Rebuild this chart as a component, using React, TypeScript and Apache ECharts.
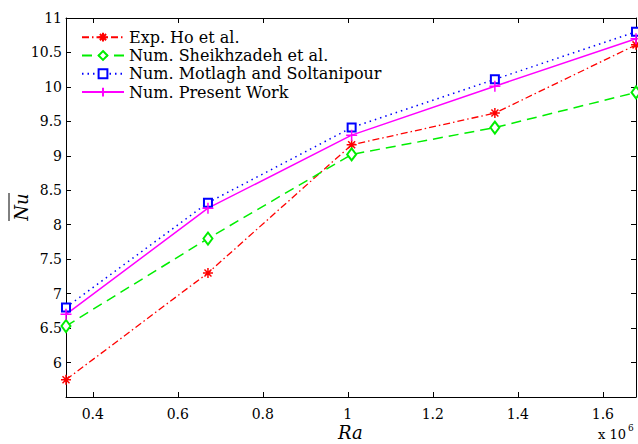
import React, { useEffect, useRef } from "react";
import * as echarts from "echarts";

const raValues = [0.337, 0.671, 1.009, 1.346, 1.678];
const hoExp = [5.75, 7.3, 9.16, 9.62, 10.61];
const sheikhzadeh = [6.53, 7.8, 9.02, 9.41, 9.92];
const motlagh = [6.8, 8.32, 9.41, 10.11, 10.8];
const present = [6.7, 8.24, 9.3, 10.01, 10.7];
const seriesNames = [
  "Exp. Ho et al.",
  "Num. Sheikhzadeh et al.",
  "Num. Motlagh and Soltanipour",
  "Num. Present Work",
];
const xTicks = [0.4, 0.6, 0.8, 1.0, 1.2, 1.4, 1.6];
const yTicks = [6, 6.5, 7, 7.5, 8, 8.5, 9, 9.5, 10, 10.5, 11];

const FONT = "DejaVu Serif";
const STAR = "path://M5,0L5,10M0,5L10,5M1.5,1.5L8.5,8.5M8.5,1.5L1.5,8.5";
const PLUS = "path://M5,0L5,10M0,5L10,5";

export default function App() {
  const ref = useRef<HTMLDivElement>(null);
  useEffect(() => {
    if (!ref.current) return;
    const chart = echarts.init(ref.current, null, { renderer: "svg" });
    const pairs = (ys: number[]) => raValues.map((x, i) => [x, ys[i]]);
    const axisLine = { show: true, lineStyle: { color: "#000", width: 1 } };
    const tick = (vals: number[]) => ({
      show: true,
      inside: true,
      length: 5,
      customValues: vals,
      lineStyle: { color: "#000", width: 1 },
    });
    chart.setOption({
      animation: false,
      backgroundColor: "#fff",
      grid: { left: 66, right: 2, top: 18, bottom: 47 },
      legend: {
        orient: "vertical",
        left: 76,
        top: 23,
        itemWidth: 42,
        itemHeight: 11,
        itemGap: 0,
        textStyle: { fontFamily: FONT, fontSize: 16, color: "#000", lineHeight: 18.3 },
        data: seriesNames,
      },
      xAxis: [
        {
          type: "value",
          min: 0.337,
          max: 1.678,
          axisLine,
          axisTick: tick(xTicks),
          splitLine: { show: false },
          axisLabel: {
            customValues: xTicks,
            margin: 10,
            fontFamily: FONT,
            fontSize: 14,
            color: "#000",
            formatter: (v: number) => String(Math.round(v * 10) / 10),
          },
        },
        {
          type: "value",
          position: "top",
          min: 0.337,
          max: 1.678,
          axisLine,
          axisTick: tick(xTicks),
          splitLine: { show: false },
          axisLabel: { show: false },
        },
      ],
      yAxis: [
        {
          type: "value",
          min: 5.5,
          max: 11,
          axisLine,
          axisTick: tick(yTicks),
          splitLine: { show: false },
          axisLabel: {
            customValues: yTicks,
            margin: 4,
            fontFamily: FONT,
            fontSize: 14,
            color: "#000",
            formatter: (v: number) => String(v),
          },
        },
        {
          type: "value",
          position: "right",
          min: 5.5,
          max: 11,
          axisLine,
          axisTick: tick(yTicks),
          splitLine: { show: false },
          axisLabel: { show: false },
        },
      ],
      series: [
        {
          name: seriesNames[0],
          type: "line",
          data: pairs(hoExp),
          symbol: STAR,
          symbolSize: 10,
          lineStyle: { color: "#ff0000", width: 1.3, type: [7, 3, 1.5, 3] },
          itemStyle: { color: "#ff0000", borderColor: "#ff0000", borderWidth: 1.5 },
        },
        {
          name: seriesNames[1],
          type: "line",
          data: pairs(sheikhzadeh),
          symbol: "emptyDiamond",
          symbolSize: [9, 12],
          lineStyle: { color: "#00ee00", width: 1.5, type: [10, 6] },
          itemStyle: { color: "#00ee00", borderColor: "#00ee00", borderWidth: 1.5 },
        },
        {
          name: seriesNames[2],
          type: "line",
          data: pairs(motlagh),
          symbol: "emptyRect",
          symbolSize: 8,
          lineStyle: { color: "#0000ff", width: 1.5, type: [1.5, 4] },
          itemStyle: { color: "#0000ff", borderColor: "#0000ff", borderWidth: 1.5 },
        },
        {
          name: seriesNames[3],
          type: "line",
          data: pairs(present),
          symbol: PLUS,
          symbolSize: 11,
          lineStyle: { color: "#ff00ff", width: 1.5, type: "solid" },
          itemStyle: { color: "#ff00ff", borderColor: "#ff00ff", borderWidth: 1.5 },
        },
      ],
      graphic: [
        {
          type: "text",
          left: 338,
          top: 423,
          style: { text: "Ra", fontFamily: FONT, fontStyle: "italic", fontSize: 18, fill: "#000" },
        },
        {
          type: "text",
          left: 598,
          top: 428,
          style: { text: "x 10", fontFamily: FONT, fontSize: 13, fill: "#000" },
        },
        {
          type: "text",
          left: 628,
          top: 423,
          style: { text: "6", fontFamily: FONT, fontSize: 9, fill: "#000" },
        },
        {
          type: "group",
          x: 21,
          y: 207,
          rotation: Math.PI / 2,
          children: [
            {
              type: "text",
              x: 0,
              y: 0,
              style: {
                text: "Nu",
                fontFamily: FONT,
                fontStyle: "italic",
                fontSize: 18,
                fill: "#000",
                align: "center",
                verticalAlign: "middle",
              },
            },
            {
              type: "line",
              shape: { x1: -14, y1: -12, x2: 14, y2: -12 },
              style: { stroke: "#000", lineWidth: 1 },
            },
          ],
        },
      ],
    });
    return () => chart.dispose();
  }, []);
  return <div ref={ref} style={{ width: 638, height: 444, position: "absolute", left: 0, top: 0 }} />;
}
